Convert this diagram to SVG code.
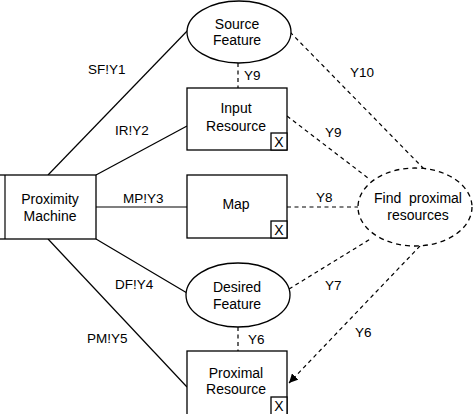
<svg xmlns="http://www.w3.org/2000/svg" width="474" height="414" viewBox="0 0 474 414">
<style>
  .shape { fill: #fff; stroke: #000; stroke-width: 1.3; }
  .dshape { fill: #fff; stroke: #000; stroke-width: 1.3; stroke-dasharray: 5 4; }
  .solid { fill: none; stroke: #000; stroke-width: 1.2; }
  .dash { fill: none; stroke: #000; stroke-width: 1.2; stroke-dasharray: 4 3.5; }
  text { font-family: "Liberation Sans", Arial, sans-serif; font-size: 14px; fill: #000; }
  .c { text-anchor: middle; }
  .lbl { font-size: 13.5px; }
</style>
<defs>
  <marker id="arrow" viewBox="0 0 10 10" refX="10" refY="5" markerWidth="9" markerHeight="9" orient="auto" markerUnits="userSpaceOnUse">
    <path d="M0,0 L10,5 L0,10 z" fill="#000"/>
  </marker>
</defs>
<rect width="474" height="414" fill="#fff"/>

<g id="connectors">
  <line class="solid" x1="48" y1="175" x2="190" y2="28"/>
  <line class="solid" x1="96" y1="175" x2="187" y2="126"/>
  <line class="solid" x1="96" y1="207" x2="187" y2="207"/>
  <line class="solid" x1="96" y1="239" x2="187" y2="293"/>
  <line class="solid" x1="48" y1="239" x2="187" y2="387"/>
  <line class="dash" x1="238" y1="63" x2="238" y2="88"/>
  <line class="dash" x1="238" y1="327" x2="238" y2="351"/>
  <line class="dash" x1="290" y1="32" x2="424" y2="169"/>
  <line class="dash" x1="287" y1="116" x2="368" y2="178"/>
  <line class="dash" x1="287" y1="207" x2="358" y2="207"/>
  <line class="dash" x1="289" y1="289" x2="372" y2="238"/>
  <line class="dash" x1="420" y1="246" x2="289" y2="383" marker-end="url(#arrow)"/>
  <text class="lbl" x="88" y="74">SF!Y1</text>
  <text class="lbl" x="115" y="135">IR!Y2</text>
  <text class="lbl" x="123" y="203">MP!Y3</text>
  <text class="lbl" x="115" y="289">DF!Y4</text>
  <text class="lbl" x="87" y="343">PM!Y5</text>
  <text class="lbl" x="244" y="80">Y9</text>
  <text class="lbl" x="248" y="344">Y6</text>
  <text class="lbl" x="350" y="77">Y10</text>
  <text class="lbl" x="325" y="137">Y9</text>
  <text class="lbl" x="316" y="202">Y8</text>
  <text class="lbl" x="325" y="290">Y7</text>
  <text class="lbl" x="355" y="337">Y6</text>
</g>

<g id="proximity-machine">
  <rect class="shape" x="-1" y="175" width="97" height="64"/>
  <line class="solid" x1="5" y1="175" x2="5" y2="239"/>
  <text class="c" x="50" y="204">Proximity</text>
  <text class="c" x="50" y="221">Machine</text>
</g>

<g id="source-feature">
  <ellipse class="shape" cx="239" cy="32" rx="52" ry="31"/>
  <text class="c" x="237" y="29">Source</text>
  <text class="c" x="237" y="45">Feature</text>
</g>

<g id="input-resource">
  <rect class="shape" x="187" y="88" width="100" height="62"/>
  <rect class="shape" x="271" y="133" width="16" height="17"/>
  <text class="c" x="279" y="147">X</text>
  <text class="c" x="236" y="113">Input</text>
  <text class="c" x="236" y="131">Resource</text>
</g>

<g id="map">
  <rect class="shape" x="187" y="175" width="100" height="63"/>
  <rect class="shape" x="271" y="221" width="16" height="17"/>
  <text class="c" x="279" y="235">X</text>
  <text class="c" x="236" y="209">Map</text>
</g>

<g id="desired-feature">
  <ellipse class="shape" cx="238" cy="295" rx="52" ry="32"/>
  <text class="c" x="237" y="292">Desired</text>
  <text class="c" x="237" y="309">Feature</text>
</g>

<g id="proximal-resource">
  <rect class="shape" x="187" y="351" width="100" height="70"/>
  <rect class="shape" x="271" y="397" width="16" height="20"/>
  <text class="c" x="279" y="411">X</text>
  <text class="c" x="236" y="378">Proximal</text>
  <text class="c" x="236" y="394">Resource</text>
</g>

<g id="find-proximal-resources">
  <ellipse class="dshape" cx="415" cy="207" rx="57" ry="39"/>
  <text class="c" x="418" y="203" xml:space="preserve">Find  proximal</text>
  <text class="c" x="418" y="220">resources</text>
</g>
</svg>
